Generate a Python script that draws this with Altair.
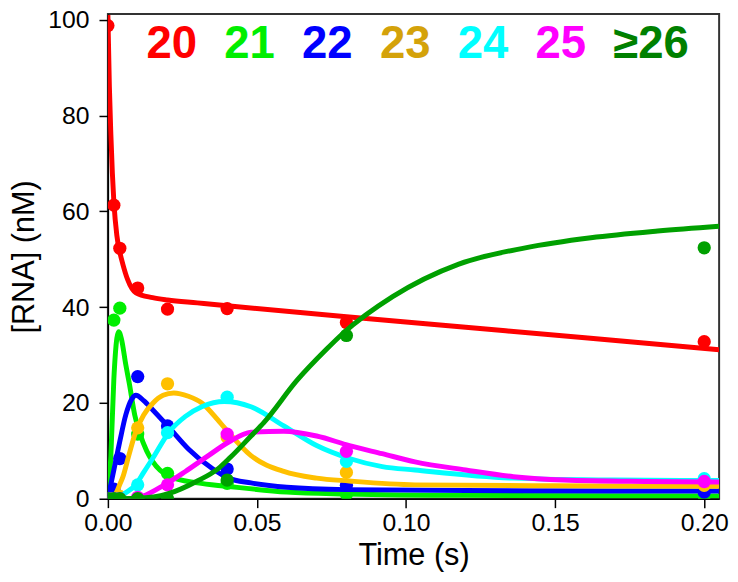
import altair as alt
import pandas as pd

# ---- series and colours ----
series = ["20", "21", "22", "23", "24", "25", "≥26"]
line_colors = ["#FF0000", "#00EE00", "#0000FF", "#FFC000", "#00FFFF", "#FF00FF", "#00A000"]
label_colors = ["#FF0000", "#00EE00", "#0000FF", "#D4A20A", "#00FFFF", "#FF00FF", "#008000"]

# ---- observed data points ----
obs_time = [0, 0.002, 0.004, 0.01, 0.02, 0.04, 0.08, 0.2]
obs_20 = [98.8, 61.3, 52.3, 44.0, 39.6, 39.7, 36.8, 32.8]
obs_21 = [0, 37.3, 39.8, 13.5, 5.3, 3.2, 1.0, 0.6]
obs_22 = [0, 2.0, 8.4, 25.5, 15.2, 6.2, 2.8, 1.4]
obs_23 = [0, 0, 0.5, 14.8, 24.0, 12.9, 5.5, 2.8]
obs_24 = [0, 0, 0, 2.9, 13.8, 21.2, 7.8, 4.2]
obs_25 = [0, 0, 0, 0.3, 2.9, 13.5, 9.9, 3.6]
obs_26 = [0, 0, 0, 0, 0, 3.9, 34.1, 52.4]

# ---- fitted curves ----
fit_t_20 = [0, 0.0005, 0.001, 0.0015, 0.002, 0.003, 0.004, 0.005, 0.0066, 0.0094, 0.015, 0.02, 0.03, 0.04, 0.08, 0.12, 0.16, 0.205]
fit_v_20 = [101, 86, 76, 68, 62, 55, 51.5, 49, 45.8, 43, 42, 41.5, 40.9, 40.3, 38.0, 35.8, 33.6, 31.1]

fit_t_21 = [0, 0.001, 0.002, 0.003, 0.0036, 0.0045, 0.006, 0.0072, 0.009, 0.0106, 0.013, 0.015, 0.0205, 0.03, 0.04, 0.06, 0.08, 0.12, 0.205]
fit_v_21 = [0, 9, 25, 33.5, 34.9, 33.5, 28, 24, 17.5, 13.9, 10, 7.8, 4.7, 3.3, 2.6, 1.4, 1.0, 0.7, 0.6]

fit_t_22 = [0, 0.001, 0.002, 0.004, 0.006, 0.008, 0.0094, 0.012, 0.015, 0.0205, 0.027, 0.035, 0.0404, 0.048, 0.06, 0.08, 0.12, 0.205]
fit_v_22 = [0, 3, 6, 12, 17.5, 20.8, 21.6, 20.5, 18.6, 14.9, 10.4, 6.3, 4.3, 3.3, 2.4, 1.9, 1.7, 1.6]

fit_t_23 = [0, 0.002, 0.003, 0.004, 0.005, 0.007, 0.0093, 0.012, 0.015, 0.0185, 0.0221, 0.027, 0.0315, 0.0368, 0.039, 0.048, 0.059, 0.07, 0.081, 0.103, 0.15, 0.205]
fit_v_23 = [0, 0.5, 1.5, 3, 4.5, 9, 13.9, 17.5, 19.9, 21.6, 22.1, 21.4, 20, 16.5, 14.9, 9, 5.7, 4.3, 3.7, 2.9, 2.7, 2.6]

fit_t_24 = [0, 0.004, 0.005, 0.0093, 0.012, 0.015, 0.0205, 0.026, 0.0315, 0.039, 0.048, 0.059, 0.07, 0.081, 0.092, 0.103, 0.136, 0.17, 0.205]
fit_v_24 = [0, 0.2, 0.8, 2.9, 5.5, 8.4, 13.9, 17.2, 19.2, 20.3, 19.2, 15.2, 11.1, 8.4, 6.7, 6.0, 4.3, 3.9, 3.8]

fit_t_25 = [0, 0.008, 0.0116, 0.019, 0.026, 0.0337, 0.0404, 0.048, 0.059, 0.07, 0.081, 0.092, 0.103, 0.12, 0.136, 0.153, 0.18, 0.205]
fit_v_25 = [0, 0, 0.5, 2.9, 5.7, 9, 11.8, 13.9, 14.1, 13.1, 11.1, 9.4, 7.7, 6, 4.6, 3.9, 3.6, 3.5]

fit_t_26 = [0, 0.01, 0.02, 0.03, 0.037, 0.041, 0.048, 0.0523, 0.0634, 0.0733, 0.0788, 0.0955, 0.1177, 0.14, 0.162, 0.1844, 0.205]
fit_v_26 = [0, 0.1, 1, 3.7, 6.3, 8.6, 13.1, 15.9, 24.7, 31.2, 34.5, 42.2, 49, 52.4, 54.5, 55.9, 56.9]

x_ticks = [0, 0.05, 0.10, 0.15, 0.20]
y_ticks = [0, 20, 40, 60, 80, 100]

obs_vals = [obs_20, obs_21, obs_22, obs_23, obs_24, obs_25, obs_26]
fit_ts = [fit_t_20, fit_t_21, fit_t_22, fit_t_23, fit_t_24, fit_t_25, fit_t_26]
fit_vs = [fit_v_20, fit_v_21, fit_v_22, fit_v_23, fit_v_24, fit_v_25, fit_v_26]

FONT = "Liberation Sans"

X = alt.X("t:Q",
          scale=alt.Scale(domain=[0, 0.205], nice=False, zero=False),
          axis=alt.Axis(values=x_ticks, format=".2f", title="Time (s)", labelFlush=False))
Y = alt.Y("v:Q",
          scale=alt.Scale(domain=[0, 101.2], nice=False),
          axis=alt.Axis(values=y_ticks, title="[RNA] (nM)", labelFlush=False))

layers = []
for i, s in enumerate(series):
    fdf = pd.DataFrame({"t": fit_ts[i], "v": fit_vs[i]})
    odf = pd.DataFrame({"t": obs_time, "v": obs_vals[i]})
    layers.append(
        alt.Chart(fdf).mark_line(color=line_colors[i], strokeWidth=5,
                                 interpolate="monotone", clip=True)
        .encode(x=X, y=Y)
    )
    layers.append(
        alt.Chart(odf).mark_circle(color=line_colors[i], size=180, opacity=1, clip=True)
        .encode(x=X, y=Y)
    )

data_layer = alt.layer(*layers)

lab_df = pd.DataFrame({"lab": series})
labels = alt.Chart(lab_df).mark_text(
    font=FONT, fontSize=46, fontWeight="bold", align="left", baseline="alphabetic"
).encode(
    x=alt.X("lab:N", sort=series, axis=None,
            scale=alt.Scale(type="point", range=[39, 511], padding=0)),
    y=alt.value(44),
    text="lab:N",
    color=alt.Color("lab:N", sort=series, legend=None,
                    scale=alt.Scale(domain=series, range=label_colors)),
)

chart = alt.layer(data_layer, labels).resolve_scale(
    x="independent", color="independent"
).properties(
    width=618, height=490,
    autosize=alt.AutoSizeParams(type="none"),
    padding={"left": 101, "top": 3, "right": 11, "bottom": 80},
).configure_view(
    stroke="#333333", strokeWidth=2
).configure_axis(
    labelFont=FONT, titleFont=FONT, labelFontSize=25, titleFontSize=31,
    titleFontWeight="normal", labelColor="black", titleColor="black",
    domainColor="black", domainWidth=1.5, tickColor="black", tickWidth=1.5,
    tickSize=9, grid=False, labelPadding=4,
).configure_axisY(
    labelPadding=10, titlePadding=8,
).configure_axisX(
    labelPadding=3, titlePadding=6,
)

chart.save("out.html", embed_options={"renderer": "svg", "actions": False})
